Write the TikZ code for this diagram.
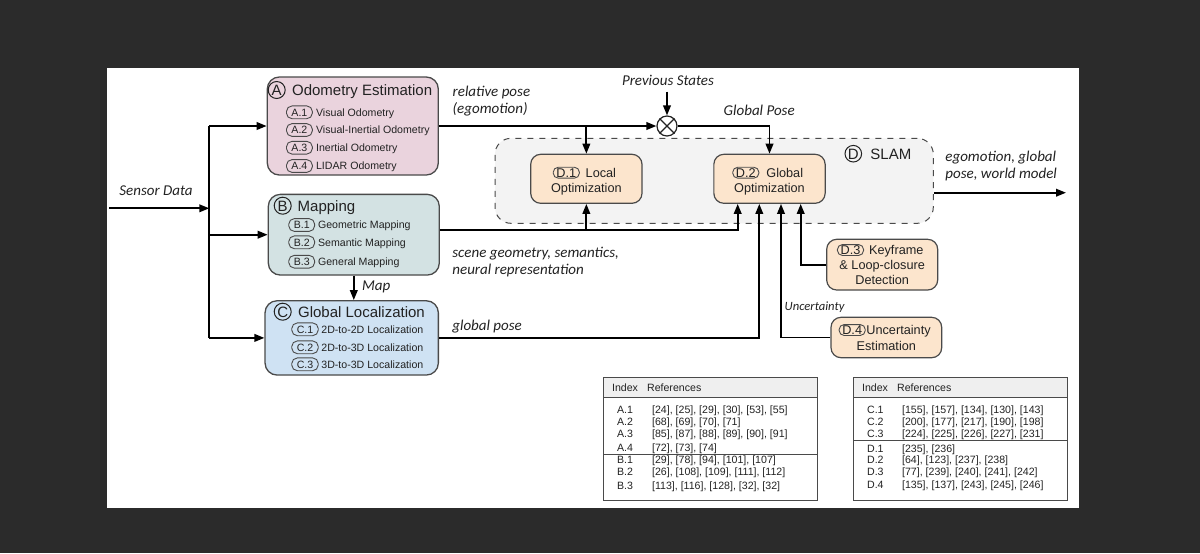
\documentclass[tikz,border=0pt]{standalone}
\usepackage{fontspec}
\setmainfont{Liberation Sans}
\newfontfamily\labfont{Carlito}
\usetikzlibrary{arrows.meta,calc}
\definecolor{bgdark}{HTML}{2B2B2B}
\definecolor{pinkA}{HTML}{EAD3DD}
\definecolor{tealB}{HTML}{D3E2E3}
\definecolor{blueC}{HTML}{CFE2F3}
\definecolor{orangeD}{HTML}{FCE5CD}
\definecolor{slamfill}{HTML}{F3F3F3}
\definecolor{bd}{HTML}{4A4A4A}
\definecolor{tx}{HTML}{222222}
\definecolor{hdr}{HTML}{EFEFEF}
\begin{document}
\begin{tikzpicture}[x=0.5pt,y=-0.5pt,
  box/.style={draw=bd, line width=0.65pt, rounded corners=6pt, inner sep=0},
  dbox/.style={draw=bd, line width=0.6pt, rounded corners=5pt, inner sep=0, fill=orangeD},
  slam/.style={draw=bd, dashed, line width=0.5pt, rounded corners=8pt, fill=slamfill, inner sep=0},
  circ/.style={circle, draw=tx, line width=0.5pt, minimum size=8.5pt, inner sep=0, text=tx,
    font=\fontsize{7.5}{9}\selectfont, text height=5.4pt, text depth=0pt},
  ttl/.style={font=\fontsize{7.5}{9}\selectfont, text height=5.4pt, text depth=0pt, inner sep=0, anchor=west, text=tx},
  itm/.style={font=\fontsize{5.3}{6.4}\selectfont, text height=3.8pt, text depth=0pt, inner sep=0, anchor=west, text=tx},
  tagA/.style={itm, draw=bd, line width=0.45pt, rounded corners=2.8pt, inner xsep=2.5pt, inner ysep=1.3pt},
  dtxt/.style={font=\fontsize{6.35}{7.8}\selectfont, text height=4.55pt, text depth=0pt, inner sep=0, text=tx},
  dtag/.style={dtxt, draw=bd, line width=0.45pt, rounded corners=2.5pt, inner xsep=1.6pt, inner ysep=0.45pt},
  lab/.style={font=\fontsize{7.5}{8.5}\selectfont\labfont\itshape, text=tx, inner sep=0, align=left},
  labs/.style={font=\fontsize{6.3}{7.5}\selectfont\labfont\itshape, text=tx, inner sep=0},
  tbt/.style={font=\fontsize{5.3}{6.4}\selectfont, text height=3.8pt, text depth=0pt, inner sep=0, anchor=west, text=tx},
  tline/.style={draw=bd, line width=0.5pt},
  conn/.style={draw=black, line width=0.9pt},
  arr/.style={conn, -{Triangle[length=5pt,width=3.8pt]}}
]
% background
\fill[bgdark] (0,0) rectangle (1200,553);
\fill[white] (107,68) rectangle (1079,507.5);
\useasboundingbox (0,0) rectangle (1200,553);

% main boxes
\node[box, fill=pinkA, minimum width=85.5pt, minimum height=49pt] (A) at (352.8,126) {};
\node[box, fill=tealB, minimum width=85.5pt, minimum height=40.35pt] (B) at (353.8,234.7) {};
\node[box, fill=blueC, minimum width=86.65pt, minimum height=37.15pt] (C) at (351.7,337.9) {};
\node[slam, minimum width=219.15pt, minimum height=42.5pt] (S) at (714.15,180.8) {};
\node[dbox, minimum width=55.65pt, minimum height=24.5pt] (D1) at (586.35,178.8) {};
\node[dbox, minimum width=55.65pt, minimum height=24.5pt] (D2) at (769.5,178.8) {};
\node[dbox, minimum width=55.5pt, minimum height=25.35pt] (D3) at (882.2,264.65) {};
\node[dbox, minimum width=55.35pt, minimum height=20.2pt] (D4) at (886.35,337.5) {};

% titles
\node[circ] (Ac) at (276.7,90) {A};
\node[ttl] (At) at (291.7,90) {Odometry Estimation};
\node[circ] (Bc) at (282.7,205.7) {B};
\node[ttl] (Bt) at (297.3,205.7) {Mapping};
\node[circ] (Cc) at (282.7,311.7) {C};
\node[ttl] (Ct) at (297.7,311.7) {Global Localization};
\node[circ, minimum size=8.3pt] (Dc) at (853.3,153.7) {D};
\node[ttl] (Dt) at (870,153.7) {SLAM};

% items
\foreach \t/\s/\y [count=\i] in {A.1/Visual Odometry/112.3, A.2/Visual-Inertial Odometry/130, A.3/Inertial Odometry/147.7, A.4/LIDAR Odometry/166}
{ \node[tagA] (tA\i) at (286,\y) {\t}; \node[itm] (iA\i) at (315.7,\y) {\s}; }
\foreach \t/\s/\y [count=\i] in {B.1/Geometric Mapping/225, B.2/Semantic Mapping/242.3, B.3/General Mapping/261.7}
{ \node[tagA] (tB\i) at (288.3,\y) {\t}; \node[itm] (iB\i) at (317.7,\y) {\s}; }
\foreach \t/\s/\y [count=\i] in {C.1/2D-to-2D Localization/329.3, C.2/2D-to-3D Localization/347.3, C.3/3D-to-3D Localization/364.3}
{ \node[tagA] (tC\i) at (291.3,\y) {\t}; \node[itm] (iC\i) at (321,\y) {\s}; }

% D box contents
\node[dtag] (D1g) at (566.3,172.7) {D.1};
\node[dtxt, anchor=west] (D1a) at (585.3,172.7) {Local};
\node[dtxt] (D1b) at (586.35,188.3) {Optimization};
\node[dtag] (D2g) at (745.8,172.7) {D.2};
\node[dtxt, anchor=west] (D2a) at (766,172.7) {Global};
\node[dtxt] (D2b) at (769.5,188.3) {Optimization};
\node[dtag] (D3g) at (850.5,250) {D.3};
\node[dtxt, anchor=west] (D3a) at (868.7,250) {Keyframe};
\node[dtxt] (D3b) at (882.2,265.3) {\& Loop-closure};
\node[dtxt] (D3c) at (882.2,280) {Detection};
\node[dtag] (D4g) at (852.2,330) {D.4};
\node[dtxt, anchor=west] (D4a) at (866,330) {Uncertainty};
\node[dtxt] (D4b) at (886.3,345.7) {Estimation};

% combiner
\node[circle, draw=tx, fill=white, line width=0.6pt, minimum size=10pt, inner sep=0] (ox) at (667,126) {};
\draw[tx, line width=0.6pt] (ox.north west) -- (ox.south east) (ox.north east) -- (ox.south west);

% connectors
\coordinate (sd) at (109,208.3);
\coordinate (tTop) at (209.3,126);
\coordinate (tBot) at (209.3,337.9);
\coordinate (psa) at (667,91.7);
\coordinate (outE) at (1066,192.7);
\draw[conn] (tTop) -- (tBot);
\draw[arr] (sd) -- (sd -| tTop);
\draw[arr] (tTop) -- (A.west);
\draw[arr] (tTop |- B.west) -- (B.west);
\draw[arr] (tBot) -- (C.west);
\draw[arr] (B.south) -- (B.south |- C.north);
\draw[arr] (A.east) -- (ox.west);
\draw[arr] (D1.north |- ox) -- (D1.north);
\draw[arr] (psa) -- (ox.north);
\draw[arr] (ox.east) -| (D2.north);
\draw[arr] (B.east |- 0,230) -| ([xshift=-15.9pt]D2.south);
\draw[arr] (D1.south |- 0,230) -- (D1.south);
\draw[arr] (C.east) -| ([xshift=-5.1pt]D2.south);
\draw[arr] (D4.west) -| ([xshift=5.75pt]D2.south);
\draw[arr] (D3.west) -| ([xshift=15.6pt]D2.south);
\draw[arr] (S.east |- outE) -- (outE);

% labels
\node[lab, anchor=base west] (lsd) at (119,195.8) {Sensor Data};
\node[lab, anchor=north west] (lrp) at (452.3,85.6) {relative pose\\(egomotion)};
\node[lab, anchor=base] (lps) at (668,85.8) {Previous States};
\node[lab, anchor=base west] (lgp) at (723.3,115) {Global Pose};
\node[lab, anchor=north west] (lsg) at (452,247) {scene geometry, semantics,\\neural representation};
\node[lab, anchor=base west] (lmap) at (361.7,290) {Map};
\node[lab, anchor=base west] (lgl) at (452,330) {global pose};
\node[labs, anchor=base west] (lun) at (784.3,310) {Uncertainty};
\node[lab, anchor=north west] (leg) at (945,151) {egomotion, global\\pose, world model};

% table 1
\fill[hdr] (603.3,377.3) rectangle (817.7,397.3);
\draw[tline] (603.3,397.3) -- (817.7,397.3);
\draw[tline] (603.3,454.3) -- (817.7,454.3);
\draw[tline] (603.3,377.3) rectangle (817.7,500);
\node[tbt] (h1a) at (611.7,387.7) {Index};
\node[tbt] (h1b) at (646.7,387.7) {References};
\foreach \k/\r/\y [count=\i] in {A.1/{[24], [25], [29], [30], [53], [55]}/409.3, A.2/{[68], [69], [70], [71]}/421.7, A.3/{[85], [87], [88], [89], [90], [91]}/433.3, A.4/{[72], [73], [74]}/447.3, B.1/{[29], [78], [94], [101], [107]}/459.3, B.2/{[26], [108], [109], [111], [112]}/472, B.3/{[113], [116], [128], [32], [32]}/486}
{ \node[tbt] (ka\i) at (616.7,\y) {\k}; \node[tbt] (ra\i) at (651.7,\y) {\r}; }

% table 2
\fill[hdr] (853.3,377.3) rectangle (1067.7,397.3);
\draw[tline] (853.3,397.3) -- (1067.7,397.3);
\draw[tline] (853.3,440.7) -- (1067.7,440.7);
\draw[tline] (853.3,377.3) rectangle (1067.7,500);
\node[tbt] (h2a) at (861.7,387.7) {Index};
\node[tbt] (h2b) at (896.7,387.7) {References};
\foreach \k/\r/\y [count=\i] in {C.1/{[155], [157], [134], [130], [143]}/409.3, C.2/{[200], [177], [217], [190], [198]}/421.7, C.3/{[224], [225], [226], [227], [231]}/433.3, D.1/{[235], [236]}/448.3, D.2/{[64], [123], [237], [238]}/460, D.3/{[77], [239], [240], [241], [242]}/471.7, D.4/{[135], [137], [243], [245], [246]}/485}
{ \node[tbt] (kb\i) at (866.7,\y) {\k}; \node[tbt] (rb\i) at (901.7,\y) {\r}; }
\end{tikzpicture}
\end{document}
